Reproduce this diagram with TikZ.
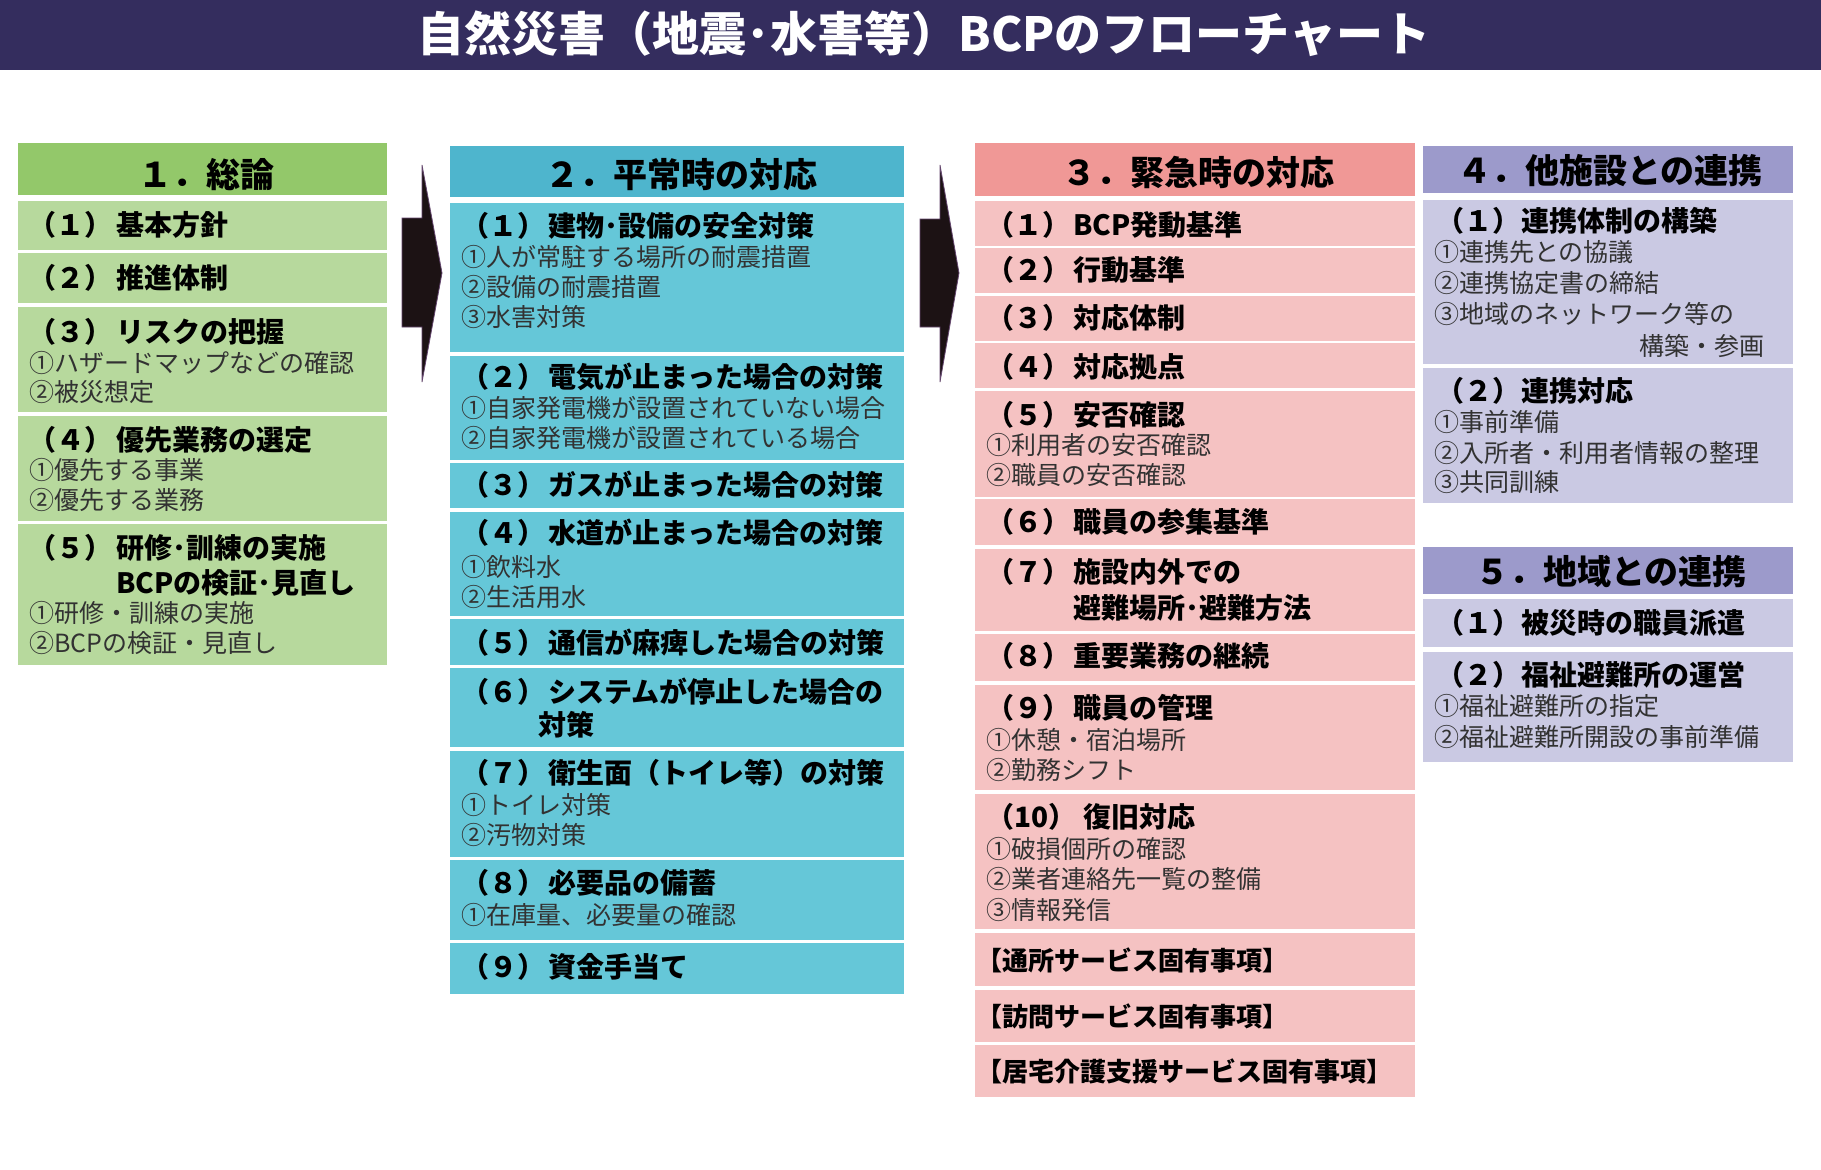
\documentclass[tikz,border=0pt]{standalone}
\usepackage{fontspec}
\newfontfamily\jp{Noto Sans CJK JP}
\definecolor{barc}{RGB}{52,45,94}
\definecolor{gH}{RGB}{147,200,106}
\definecolor{gB}{RGB}{183,217,157}
\definecolor{bH}{RGB}{78,181,205}
\definecolor{bB}{RGB}{101,199,216}
\definecolor{pH}{RGB}{240,152,150}
\definecolor{pB}{RGB}{245,194,194}
\definecolor{vH}{RGB}{156,154,203}
\definecolor{vB}{RGB}{202,201,227}
\definecolor{arrowc}{RGB}{28,18,20}
\definecolor{arrowedge}{RGB}{100,70,110}
\definecolor{bodygray}{RGB}{50,50,50}
\tikzset{
 rowbox/.style={anchor=north west, inner sep=0pt, outer sep=0pt, draw=none},
 hdrtxt/.style={font=\jp\bfseries\fontsize{34}{34}\selectfont, inner sep=0pt, text height=29.9pt, text depth=4.1pt, anchor=center, text=black},
 ttltxt/.style={font=\jp\bfseries\fontsize{28}{28}\selectfont, inner sep=0pt, text height=24.6pt, text depth=3.4pt, anchor=west, text=black},
 srvtxt/.style={font=\jp\bfseries\fontsize{26}{26}\selectfont, inner sep=0pt, text height=22.9pt, text depth=3.1pt, anchor=west, text=black},
 bdytxt/.style={font=\jp\fontsize{25}{25}\selectfont, inner sep=0pt, text height=22pt, text depth=3pt, anchor=west, text=bodygray},
 arrowshape/.style={fill=arrowc, draw=arrowedge, line width=0.8pt, line join=miter},
}
% box: name, x, y, w, h, colour
\newcommand{\bx}[6]{\node[rowbox, fill=#6, minimum width=#4pt, minimum height=#5pt] (#1) at (#2,#3) {};}
\newcommand{\hd}[4]{\node[hdrtxt] (#1) at (#2,#3) {#4};}
\newcommand{\tl}[4]{\node[ttltxt] (#1) at (#2,#3) {#4};}
\newcommand{\bd}[4]{\node[bdytxt] (#1) at (#2,#3) {#4};}
\begin{document}
\begin{tikzpicture}[x=1pt, y=-1pt]
\useasboundingbox (0,0) rectangle (1821,1170);
\fill[white] (0,0) rectangle (1821,1170);
% title bar
\bx{bar}{0}{0}{1821}{70}{barc}
\node[font=\jp\bfseries\fontsize{47}{47}\selectfont, text=white, inner sep=0pt, text height=41.4pt, text depth=5.6pt] (title) at (924,34) {自然災害（地震･水害等）BCPのフローチャート};

% arrows
\fill[arrowshape] (402,218) -- (422,218) -- (422,165) -- (442,273) -- (422,382) -- (422,327) -- (402,327) -- cycle;
\fill[arrowshape] (920,219) -- (940,219) -- (940,165) -- (959,273) -- (940,382) -- (940,327) -- (920,327) -- cycle;

% ---------- column 1 ----------
\bx{h1}{18}{143}{369}{52}{gH}
\bx{a1}{18}{201}{369}{49}{gB}
\bx{a2}{18}{253}{369}{50}{gB}
\bx{a3}{18}{307}{369}{105}{gB}
\bx{a4}{18}{416}{369}{105}{gB}
\bx{a5}{18}{524}{369}{141}{gB}
\hd{h1t}{206}{175}{１．総論}
\tl{a1l}{28}{225}{（１）}\tl{a1t}{116}{225}{基本方針}
\tl{a2l}{28}{278}{（２）}\tl{a2t}{116}{278}{推進体制}
\tl{a3l}{28}{332}{（３）}\tl{a3t}{116}{332}{リスクの把握}
\bd{a3a}{29}{363}{①ハザードマップなどの確認}
\bd{a3b}{29}{392}{②被災想定}
\tl{a4l}{28}{440}{（４）}\tl{a4t}{116}{440}{優先業務の選定}
\bd{a4a}{29}{470}{①優先する事業}
\bd{a4b}{29}{500}{②優先する業務}
\tl{a5l}{28}{548}{（５）}\tl{a5t}{116}{548}{研修･訓練の実施}
\tl{a5u}{116}{583}{BCPの検証･見直し}
\bd{a5a}{29}{613}{①研修・訓練の実施}
\bd{a5b}{29}{643}{②BCPの検証・見直し}

% ---------- column 2 ----------
\bx{h2}{450}{146}{454}{51}{bH}
\bx{b1}{450}{203}{454}{149}{bB}
\bx{b2}{450}{356}{454}{104}{bB}
\bx{b3}{450}{463}{454}{45}{bB}
\bx{b4}{450}{512}{454}{104}{bB}
\bx{b5}{450}{619}{454}{46}{bB}
\bx{b6}{450}{668}{454}{79}{bB}
\bx{b7}{450}{751}{454}{106}{bB}
\bx{b8}{450}{860}{454}{80}{bB}
\bx{b9}{450}{943}{454}{51}{bB}
\hd{h2t}{681}{175}{２．平常時の対応}
\tl{b1l}{461}{226}{（１）}\tl{b1t}{548}{226}{建物･設備の安全対策}
\bd{b1a}{461}{257}{①人が常駐する場所の耐震措置}
\bd{b1b}{461}{287}{②設備の耐震措置}
\bd{b1c}{461}{317}{③水害対策}
\tl{b2l}{461}{377}{（２）}\tl{b2t}{548}{377}{電気が止まった場合の対策}
\bd{b2a}{461}{408}{①自家発電機が設置されていない場合}
\bd{b2b}{461}{438}{②自家発電機が設置されている場合}
\tl{b3l}{461}{485}{（３）}\tl{b3t}{548}{485}{ガスが止まった場合の対策}
\tl{b4l}{461}{533}{（４）}\tl{b4t}{548}{533}{水道が止まった場合の対策}
\bd{b4a}{461}{567}{①飲料水}
\bd{b4b}{461}{597}{②生活用水}
\tl{b5l}{461}{643}{（５）}\tl{b5t}{548}{643}{通信が麻痺した場合の対策}
\tl{b6l}{461}{692}{（６）}\tl{b6t}{548}{692}{システムが停止した場合の}
\tl{b6u}{538}{725}{対策}
\tl{b7l}{461}{773}{（７）}\tl{b7t}{548}{773}{衛生面（トイレ等）の対策}
\bd{b7a}{461}{805}{①トイレ対策}
\bd{b7b}{461}{835}{②汚物対策}
\tl{b8l}{461}{883}{（８）}\tl{b8t}{548}{883}{必要品の備蓄}
\bd{b8a}{461}{915}{①在庫量、必要量の確認}
\tl{b9l}{461}{967}{（９）}\tl{b9t}{548}{967}{資金手当て}

% ---------- column 3 ----------
\bx{h3}{975}{143}{440}{53}{pH}
\bx{c1}{975}{201}{440}{45}{pB}
\bx{c2}{975}{248}{440}{45}{pB}
\bx{c3}{975}{296}{440}{45}{pB}
\bx{c4}{975}{343}{440}{45}{pB}
\bx{c5}{975}{391}{440}{106}{pB}
\bx{c6}{975}{499}{440}{46}{pB}
\bx{c7}{975}{549}{440}{82}{pB}
\bx{c8}{975}{634}{440}{47}{pB}
\bx{c9}{975}{685}{440}{105}{pB}
\bx{c10}{975}{794}{440}{135}{pB}
\bx{c11}{975}{933}{440}{53}{pB}
\bx{c12}{975}{990}{440}{52}{pB}
\bx{c13}{975}{1045}{440}{52}{pB}
\hd{h3t}{1198}{173}{３．緊急時の対応}
\tl{c1l}{986}{225}{（１）}\tl{c1t}{1073}{225}{BCP発動基準}
\tl{c2l}{986}{270}{（２）}\tl{c2t}{1073}{270}{行動基準}
\tl{c3l}{986}{318}{（３）}\tl{c3t}{1073}{318}{対応体制}
\tl{c4l}{986}{367}{（４）}\tl{c4t}{1073}{367}{対応拠点}
\tl{c5l}{986}{415}{（５）}\tl{c5t}{1073}{415}{安否確認}
\bd{c5a}{986}{445}{①利用者の安否確認}
\bd{c5b}{986}{475}{②職員の安否確認}
\tl{c6l}{986}{522}{（６）}\tl{c6t}{1073}{522}{職員の参集基準}
\tl{c7l}{986}{572}{（７）}\tl{c7t}{1073}{572}{施設内外での}
\tl{c7u}{1073}{608}{避難場所･避難方法}
\tl{c8l}{986}{656}{（８）}\tl{c8t}{1073}{656}{重要業務の継続}
\tl{c9l}{986}{708}{（９）}\tl{c9t}{1073}{708}{職員の管理}
\bd{c9a}{986}{740}{①休憩・宿泊場所}
\bd{c9b}{986}{770}{②勤務シフト}
\tl{c10l}{986}{817}{（10）}\tl{c10t}{1083}{817}{復旧対応}
\bd{c10a}{986}{849}{①破損個所の確認}
\bd{c10b}{986}{879}{②業者連絡先一覧の整備}
\bd{c10c}{986}{910}{③情報発信}
\node[srvtxt] (c11t) at (976,961) {【通所サービス固有事項】};
\node[srvtxt] (c12t) at (976,1017) {【訪問サービス固有事項】};
\node[srvtxt] (c13t) at (976,1072) {【居宅介護支援サービス固有事項】};

% ---------- column 4 ----------
\bx{h4}{1423}{146}{370}{47}{vH}
\bx{d1}{1423}{200}{370}{164}{vB}
\bx{d2}{1423}{368}{370}{135}{vB}
\bx{h5}{1423}{547}{370}{47}{vH}
\bx{e1}{1423}{599}{370}{48}{vB}
\bx{e2}{1423}{652}{370}{110}{vB}
\hd{h4t}{1610}{171}{４．他施設との連携}
\tl{d1l}{1436}{221}{（１）}\tl{d1t}{1521}{221}{連携体制の構築}
\bd{d1a}{1434}{252}{①連携先との協議}
\bd{d1b}{1434}{283}{②連携協定書の締結}
\bd{d1c}{1434}{314}{③地域のネットワーク等の}
\node[bdytxt, anchor=east] (d1d) at (1765,346) {構築・参画};
\tl{d2l}{1436}{391}{（２）}\tl{d2t}{1521}{391}{連携対応}
\bd{d2a}{1434}{422}{①事前準備}
\bd{d2b}{1434}{453}{②入所者・利用者情報の整理}
\bd{d2c}{1434}{482}{③共同訓練}
\hd{h5t}{1611}{572}{５．地域との連携}
\tl{e1l}{1436}{623}{（１）}\tl{e1t}{1521}{623}{被災時の職員派遣}
\tl{e2l}{1436}{675}{（２）}\tl{e2t}{1521}{675}{福祉避難所の運営}
\bd{e2a}{1434}{706}{①福祉避難所の指定}
\bd{e2b}{1434}{737}{②福祉避難所開設の事前準備}
\end{tikzpicture}
\end{document}
